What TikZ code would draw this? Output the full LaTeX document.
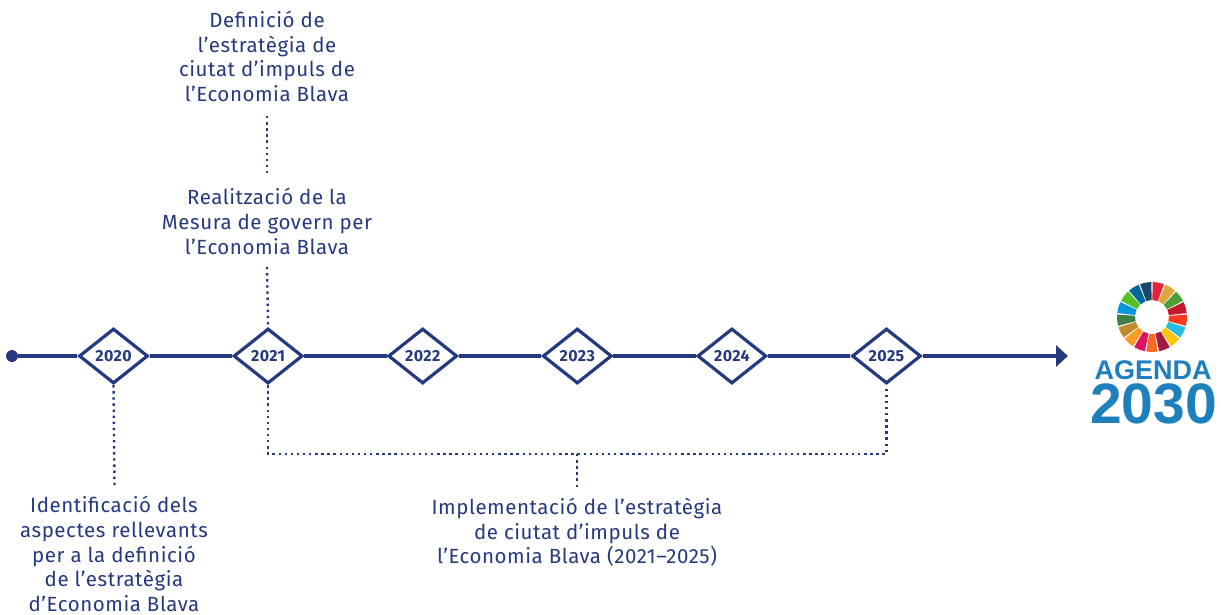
\documentclass[tikz,border=0pt]{standalone}
\usepackage{fontspec}
\setmainfont[LetterSpace=2.7]{Fira Sans}
\newfontfamily\logofont{Liberation Sans}
\usetikzlibrary{positioning,shapes.geometric,arrows.meta}
\definecolor{navy}{HTML}{24397F}
\definecolor{logoblue}{HTML}{1F7FBD}
\begin{document}
\begin{tikzpicture}[x=1pt, y=-1pt, node distance=154.6pt, on grid,
  every node/.style = {align=center, text=navy, inner sep=0pt,
    font=\fontsize{20.5}{24.6}\selectfont}]
    \tikzstyle{year}=[shape=diamond, draw=navy, line width=3.2pt, fill=white,
      minimum width=69pt, minimum height=55pt,
      font=\fontsize{16}{16}\selectfont\bfseries]
    \tikzstyle{axis}=[draw=navy, line width=3.6pt]
    \tikzstyle{dotline}=[draw=navy, line width=2.4pt, dash pattern=on 2.4pt off 3.7pt]
  \useasboundingbox (0,0) rectangle (1224,614);
  % timeline
  \node [circle, fill=navy, minimum size=12pt] (origin) at (12,356) {};
  \node [year] (y2020) at (113.5,356) {2020};
  \node [year, right=of y2020] (y2021) {2021};
  \node [year, right=of y2021] (y2022) {2022};
  \node [year, right=of y2022] (y2023) {2023};
  \node [year, right=of y2023] (y2024) {2024};
  \node [year, right=of y2024] (y2025) {2025};
  \coordinate (arrowend) at (1068,356);
  \draw [axis] (origin) -- (y2020);
  \draw [axis] (y2020) -- (y2021);
  \draw [axis] (y2021) -- (y2022);
  \draw [axis] (y2022) -- (y2023);
  \draw [axis] (y2023) -- (y2024);
  \draw [axis] (y2024) -- (y2025);
  \draw [axis, -{Triangle[length=12pt, width=21pt]}] (y2025) -- (arrowend);
  % labels
  \node (estrategia) at (267,56.5) {Definició de\\l’estratègia de\\ciutat d’impuls de\\l’Economia Blava};
  \node (mesura) at (267,221.5) {Realització de la\\Mesura de govern per\\l’Economia Blava};
  \node (aspectes) at (114,554) {Identificació dels\\aspectes rellevants\\per a la definició\\de l’estratègia\\d’Economia Blava};
  \node (implementacio) at (577,532.5) {Implementació de l’estratègia\\de ciutat d’impuls de\\l’Economia Blava (2021–2025)};
  % dotted connectors
  \coordinate (midtop) at (267,116);
  \coordinate (midbottom) at (267,176);
  \coordinate (mesurafoot) at (267,267);
  \coordinate (aspectestop) at (114.5,485);
  \coordinate (bracketmid) at (577,454);
  \coordinate (implementaciotop) at (577,487);
  \draw [dotline] (midtop) -- (midbottom);
  \draw [dotline] (mesurafoot) -- (y2021.north);
  \draw [dotline] (y2020.south) -- (aspectestop);
  \draw [dotline] (y2021.south) |- (bracketmid) -| (y2025.south);
  \draw [dotline] (bracketmid) -- (implementaciotop);
  % agenda logo
  \foreach \col [count=\i] in {E5243B,DDA63A,4C9F38,C5192D,FF3A21,26BDE2,FCC30B,A21942,FD6925,DD1367,FD9D24,BF8B2E,3F7E44,0A97D9,56C02B,00689D,19486A} {
    \definecolor{sdg}{HTML}{\col}
    \fill [sdg] ({1152+35*sin((\i-1)*21.18+1.2)},{317-35*cos((\i-1)*21.18+1.2)})
      arc [start angle={90-((\i-1)*21.18+1.2)}, end angle={90-(\i*21.18-1.2)}, x radius=35, y radius=-35]
      -- ({1152+17*sin(\i*21.18-1.2)},{317-17*cos(\i*21.18-1.2)})
      -- ({1152+17*sin((\i-1)*21.18+1.2)},{317-17*cos((\i-1)*21.18+1.2)}) -- cycle;
  }
  \node [text=logoblue, font=\fontsize{27}{27}\selectfont\logofont\bfseries, text height=20pt, text depth=0pt] (agenda) at (1153,369.5) {AGENDA};
  \node [text=logoblue, font=\fontsize{57}{57}\selectfont\logofont\bfseries, text height=39pt, text depth=0pt] (anyagenda) at (1153.5,404) {2030};
\end{tikzpicture}
\end{document}
